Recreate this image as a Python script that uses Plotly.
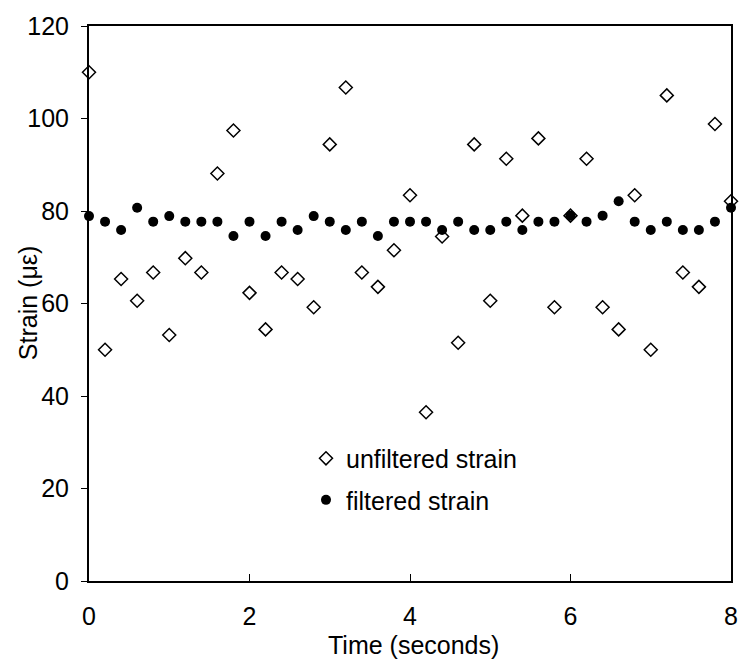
import plotly.graph_objects as go

time = [round(i * 0.2, 1) for i in range(41)]
unfiltered = [110, 50, 65.3, 60.6, 66.7, 53.2, 69.8, 66.7, 88.1, 97.4,
              62.3, 54.4, 66.7, 65.3, 59.2, 94.4, 106.7, 66.7, 63.6, 71.5,
              83.4, 36.5, 74.5, 51.5, 94.4, 60.6, 91.3, 79.0, 95.7, 59.2,
              79.0, 91.3, 59.2, 54.4, 83.4, 50.0, 105.0, 66.7, 63.6, 98.8,
              82.1]
filtered = [78.9, 77.7, 75.9, 80.7, 77.7, 78.9, 77.7, 77.7, 77.7, 74.6,
            77.7, 74.6, 77.7, 75.9, 78.9, 77.7, 75.9, 77.7, 74.6, 77.7,
            77.7, 77.7, 75.9, 77.7, 75.9, 75.9, 77.7, 75.9, 77.7, 77.7,
            79.0, 77.7, 79.0, 82.1, 77.7, 75.9, 77.7, 75.9, 75.9, 77.7,
            80.7]

FONT = "Liberation Sans, Arial, sans-serif"
FS = 25

fig = go.Figure()
fig.add_trace(go.Scatter(
    x=time, y=unfiltered, mode="markers", name="unfiltered strain",
    legendgroup="a",
    marker=dict(symbol="diamond-open", size=10, color="black",
                line=dict(width=1.5, color="black")),
    cliponaxis=False,
))
fig.add_trace(go.Scatter(
    x=time, y=filtered, mode="markers", name="filtered strain",
    legendgroup="b",
    marker=dict(symbol="circle", size=10, color="black"),
    cliponaxis=False,
))

fig.update_layout(
    width=750, height=661,
    margin=dict(l=89, r=12, t=19, b=80),
    paper_bgcolor="white", plot_bgcolor="white",
    font=dict(family=FONT, size=FS, color="black"),
    showlegend=True,
    legend=dict(x=0.338, y=0.262, xanchor="left", yanchor="top",
                bgcolor="rgba(0,0,0,0)", borderwidth=0,
                font=dict(family=FONT, size=FS, color="black"),
                traceorder="grouped", tracegroupgap=6,
                itemwidth=30),
    xaxis=dict(range=[0, 8], tickvals=[0, 2, 4, 6, 8],
               showgrid=False, zeroline=False,
               showline=True, linecolor="black", linewidth=2, mirror=True,
               ticks="inside", ticklen=7, tickwidth=1, tickcolor="black",
               ticklabelstandoff=12,
               tickfont=dict(family=FONT, size=FS)),
    yaxis=dict(range=[0, 120], tickvals=[0, 20, 40, 60, 80, 100, 120],
               showgrid=False, zeroline=False,
               showline=True, linecolor="black", linewidth=2, mirror=True,
               ticks="outside", ticklen=6, tickwidth=1, tickcolor="black",
               ticklabelstandoff=7,
               tickfont=dict(family=FONT, size=FS)),
    annotations=[
        dict(text="Strain (με)", textangle=-90,
             xref="paper", yref="paper",
             x=-0.0955, y=0.50, xanchor="center", yanchor="middle",
             showarrow=False,
             font=dict(family=FONT, size=FS, color="black")),
        dict(text="Time (seconds)",
             xref="paper", yref="paper",
             x=0.505, y=-0.1157, xanchor="center", yanchor="middle",
             showarrow=False,
             font=dict(family=FONT, size=FS, color="black")),
    ],
)

fig.write_html("out.html")
